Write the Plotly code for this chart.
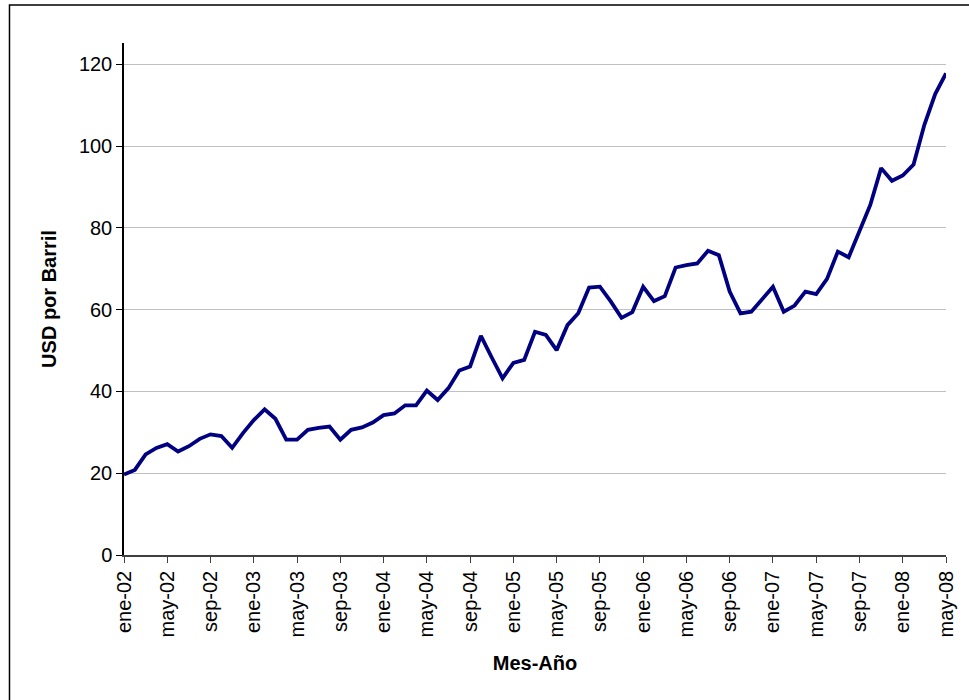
import plotly.graph_objects as go

# Monthly prices, ene-02 .. may-08 (USD por barril)
meses_es = ["ene", "feb", "mar", "abr", "may", "jun", "jul", "ago", "sep", "oct", "nov", "dic"]
anios = ["02", "03", "04", "05", "06", "07", "08"]
categorias = [f"{m}-{a}" for a in anios for m in meses_es][:77]

precios = [
    19.7, 20.8, 24.6, 26.2, 27.1, 25.3, 26.6, 28.4, 29.5, 29.1, 26.2, 29.8,
    33.0, 35.6, 33.3, 28.2, 28.2, 30.6, 31.1, 31.4, 28.2, 30.6, 31.2, 32.4,
    34.2, 34.6, 36.6, 36.6, 40.2, 37.9, 40.8, 45.1, 46.1, 53.6, 48.3, 43.2,
    47.0, 47.7, 54.6, 53.8, 50.1, 56.2, 59.1, 65.4, 65.6, 62.0, 58.0, 59.4,
    65.6, 62.1, 63.3, 70.3, 70.9, 71.3, 74.4, 73.3, 64.4, 59.1, 59.5, 62.6,
    65.6, 59.5, 61.0, 64.4, 63.8, 67.5, 74.2, 72.8, 79.1, 85.6, 94.6, 91.5,
    92.8, 95.5, 105.2, 112.7, 117.8,
]

tick_etiquetas = categorias[::4]
y_ticks = [0, 20, 40, 60, 80, 100, 120]

FONT = "Liberation Sans, Arial, sans-serif"

fig = go.Figure()
fig.add_trace(go.Scatter(
    x=list(range(len(precios))),
    y=precios,
    mode="lines",
    line=dict(color="#000080", width=3.8),
    hoverinfo="skip",
    showlegend=False,
))

fig.update_layout(
    width=969, height=700,
    margin=dict(l=124, r=23, t=43, b=145),
    paper_bgcolor="white", plot_bgcolor="white",
    font=dict(family=FONT, size=20, color="black"),
    showlegend=False,
    shapes=[dict(type="rect", xref="paper", yref="paper",
                 x0=-0.1393, x1=1.05, y0=-0.3, y1=1.0742,
                 line=dict(color="black", width=1.5), layer="below")],
)

fig.update_xaxes(
    range=[0, len(precios) - 1],
    tickmode="array",
    tickvals=list(range(0, len(precios), 4)),
    ticktext=tick_etiquetas,
    tickangle=-90,
    ticks="outside", ticklen=6, tickwidth=1, tickcolor="#404040",
    showline=True, linecolor="#404040", linewidth=1.5,
    showgrid=False, zeroline=False,
    tickfont=dict(family=FONT, size=20, color="black"),
    title=dict(text="<b>Mes-Año</b>", font=dict(family=FONT, size=20, color="black"), standoff=20),
)

fig.update_yaxes(
    range=[0, 125.2],
    tickmode="array",
    tickvals=y_ticks,
    ticks="outside", ticklen=6, tickwidth=1, tickcolor="black",
    showline=True, linecolor="black", linewidth=1.5,
    showgrid=True, gridcolor="#c0c0c0", gridwidth=1,
    zeroline=False,
    tickfont=dict(family=FONT, size=20, color="black"),
    title=dict(text="<b>USD por Barril</b>", font=dict(family=FONT, size=20, color="black"), standoff=17),
)

fig.write_html(
    "out.html",
    config={"displayModeBar": False},
    post_script="document.body.style.margin='0';document.body.style.overflow='hidden';",
)
